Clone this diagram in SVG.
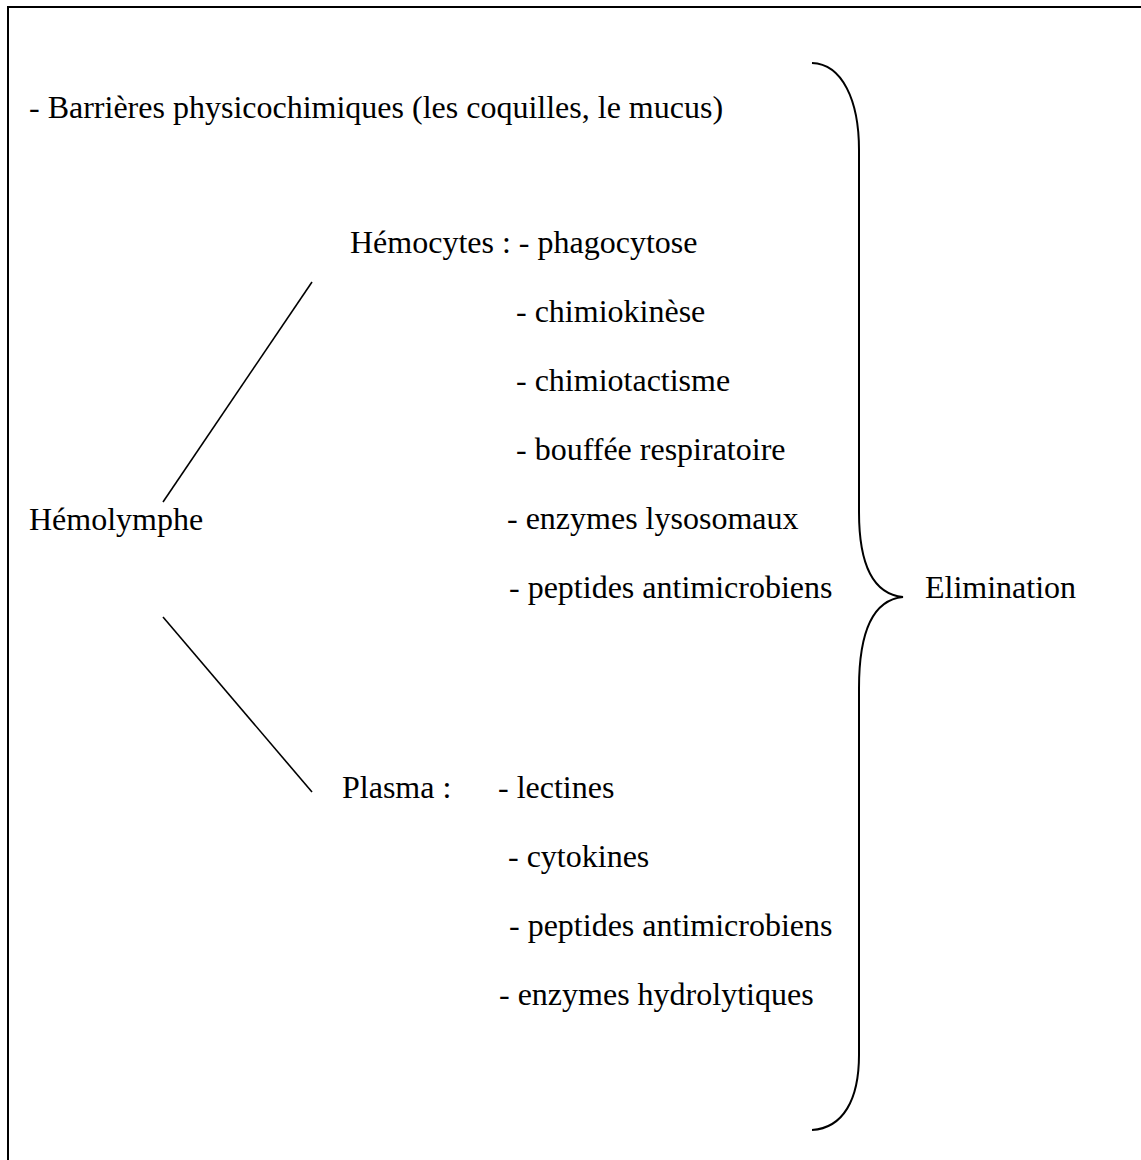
<svg xmlns="http://www.w3.org/2000/svg" width="1141" height="1160" viewBox="0 0 1141 1160">
<style>
  text { font-family: "Liberation Serif", "Times New Roman", serif; font-size: 32px; fill: #000; }
  .conn { stroke: #000; stroke-width: 1.6; fill: none; }
  .brace { stroke: #000; stroke-width: 2; fill: none; }
  .frame { stroke: #000; stroke-width: 2; fill: none; }
</style>
<rect width="1141" height="1160" fill="#fff"/>
<rect class="frame" x="8" y="7" width="1200" height="1200"/>
<g id="barrieres">
  <text x="29" y="118">- Barrières physicochimiques (les coquilles, le mucus)</text>
</g>
<g id="hemolymphe">
  <text x="29" y="530">Hémolymphe</text>
</g>
<g id="hemocytes">
  <text x="350" y="253">Hémocytes : - phagocytose</text>
  <text x="516" y="322">- chimiokinèse</text>
  <text x="516" y="391">- chimiotactisme</text>
  <text x="516" y="460">- bouffée respiratoire</text>
  <text x="507" y="529">- enzymes lysosomaux</text>
  <text x="509" y="598">- peptides antimicrobiens</text>
</g>
<g id="plasma">
  <text x="342" y="798">Plasma :</text>
  <text x="498" y="798">- lectines</text>
  <text x="508" y="867">- cytokines</text>
  <text x="509" y="936">- peptides antimicrobiens</text>
  <text x="499" y="1005">- enzymes hydrolytiques</text>
</g>
<g id="elimination">
  <text x="925" y="598">Elimination</text>
</g>
<g id="brace">
  <path class="brace" d="M812,63 C842,64 859,100 859,150 L859,512 C859,562 872,594 903,597 C872,600 859,634 859,688 L859,1055 C859,1100 843,1128 812,1130"/>
</g>
<g id="connectors">
  <line class="conn" x1="163" y1="502" x2="312" y2="282"/>
  <line class="conn" x1="163" y1="617" x2="312" y2="792"/>
</g>
</svg>
